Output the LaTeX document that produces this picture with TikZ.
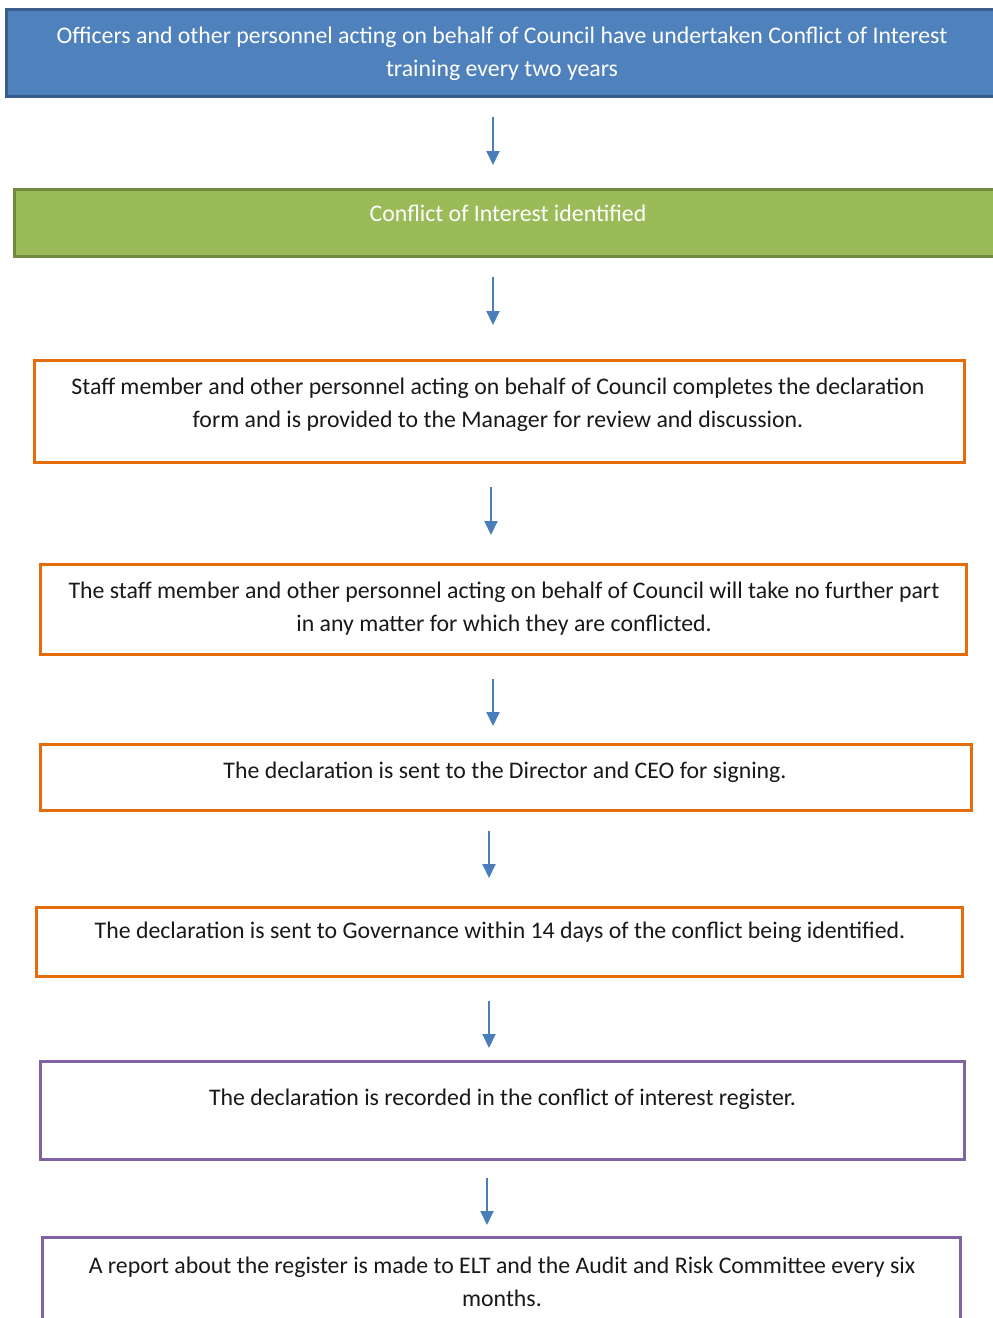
\documentclass[tikz,border=0pt]{standalone}
\usepackage{fontspec}
\setmainfont{Carlito}
\usetikzlibrary{arrows.meta}
\definecolor{bfill}{HTML}{4F81BD}
\definecolor{bdraw}{HTML}{385D8A}
\definecolor{gfill}{HTML}{9BBB59}
\definecolor{gdraw}{HTML}{71893F}
\definecolor{odraw}{HTML}{E46C0A}
\definecolor{pdraw}{HTML}{8064A2}
\definecolor{arrc}{HTML}{4A7EBB}
\tikzset{
  box/.style={draw, line width=3pt, inner sep=0pt, rectangle},
  bluebox/.style={box, draw=bdraw, fill=bfill},
  greenbox/.style={box, draw=gdraw, fill=gfill},
  orangebox/.style={box, draw=odraw, fill=white},
  purplebox/.style={box, draw=pdraw, fill=white},
  txt/.style={anchor=base, inner sep=0pt, text width=980pt, align=flush center,
    font=\fontsize{23.8pt}{33pt}\selectfont},
  wtxt/.style={txt, text=white},
  btxt/.style={txt, text=black!90},
  arr/.style={draw=arrc, line width=2pt, -{Triangle[length=14pt,width=13pt]}}
}
\begin{document}
\begin{tikzpicture}[x=1pt,y=-1pt]
\useasboundingbox (0,0) rectangle (993,1318);
\clip (0,0) rectangle (993,1318);
\fill[white] (0,0) rectangle (993,1318);
% boxes
\node[bluebox, minimum width=993pt, minimum height=87pt] (b1) at (503,53) {};
\node[greenbox, minimum width=985pt, minimum height=67pt] (b2) at (507,223) {};
\node[orangebox, minimum width=930pt, minimum height=102pt] (b3) at (499.5,411.5) {};
\node[orangebox, minimum width=926pt, minimum height=90pt] (b4) at (503.5,609.5) {};
\node[orangebox, minimum width=931pt, minimum height=66pt] (b5) at (506,777.5) {};
\node[orangebox, minimum width=926pt, minimum height=69pt] (b6) at (499.5,942) {};
\node[purplebox, minimum width=924pt, minimum height=98pt] (b7) at (502.5,1110.5) {};
\node[purplebox, minimum width=918pt, minimum height=102.5pt] (b8) at (501.5,1288.75) {};
% texts
\node[wtxt] (t1) at (502,43) {Officers and other personnel acting on behalf of Council have undertaken Conflict of Interest\\training every two years};
\node[wtxt] (t2) at (508,221) {Conflict of Interest identified};
\node[btxt] (t3) at (498,394) {Staff member and other personnel acting on behalf of Council completes the declaration\\form and is provided to the Manager for review and discussion.};
\node[btxt] (t4) at (504,598) {The staff member and other personnel acting on behalf of Council will take no further part\\in any matter for which they are conflicted.};
\node[btxt] (t5) at (505,778) {The declaration is sent to the Director and CEO for signing.};
\node[btxt] (t6) at (500,938) {The declaration is sent to Governance within 14 days of the conflict being identified.};
\node[btxt] (t7) at (502.5,1105) {The declaration is recorded in the conflict of interest register.};
\node[btxt] (t8) at (502,1273) {A report about the register is made to ELT and the Audit and Risk Committee every six\\months.};
% arrows
\coordinate (a1s) at (493,117); \coordinate (a1e) at (493,165);
\coordinate (a2s) at (493,277); \coordinate (a2e) at (493,325);
\coordinate (a3s) at (491,487); \coordinate (a3e) at (491,535);
\coordinate (a4s) at (493,679); \coordinate (a4e) at (493,726);
\coordinate (a5s) at (489,831); \coordinate (a5e) at (489,878);
\coordinate (a6s) at (489,1001); \coordinate (a6e) at (489,1048);
\coordinate (a7s) at (487,1178); \coordinate (a7e) at (487,1225);
\draw[arr] (a1s) -- (a1e);
\draw[arr] (a2s) -- (a2e);
\draw[arr] (a3s) -- (a3e);
\draw[arr] (a4s) -- (a4e);
\draw[arr] (a5s) -- (a5e);
\draw[arr] (a6s) -- (a6e);
\draw[arr] (a7s) -- (a7e);
\end{tikzpicture}
\end{document}
